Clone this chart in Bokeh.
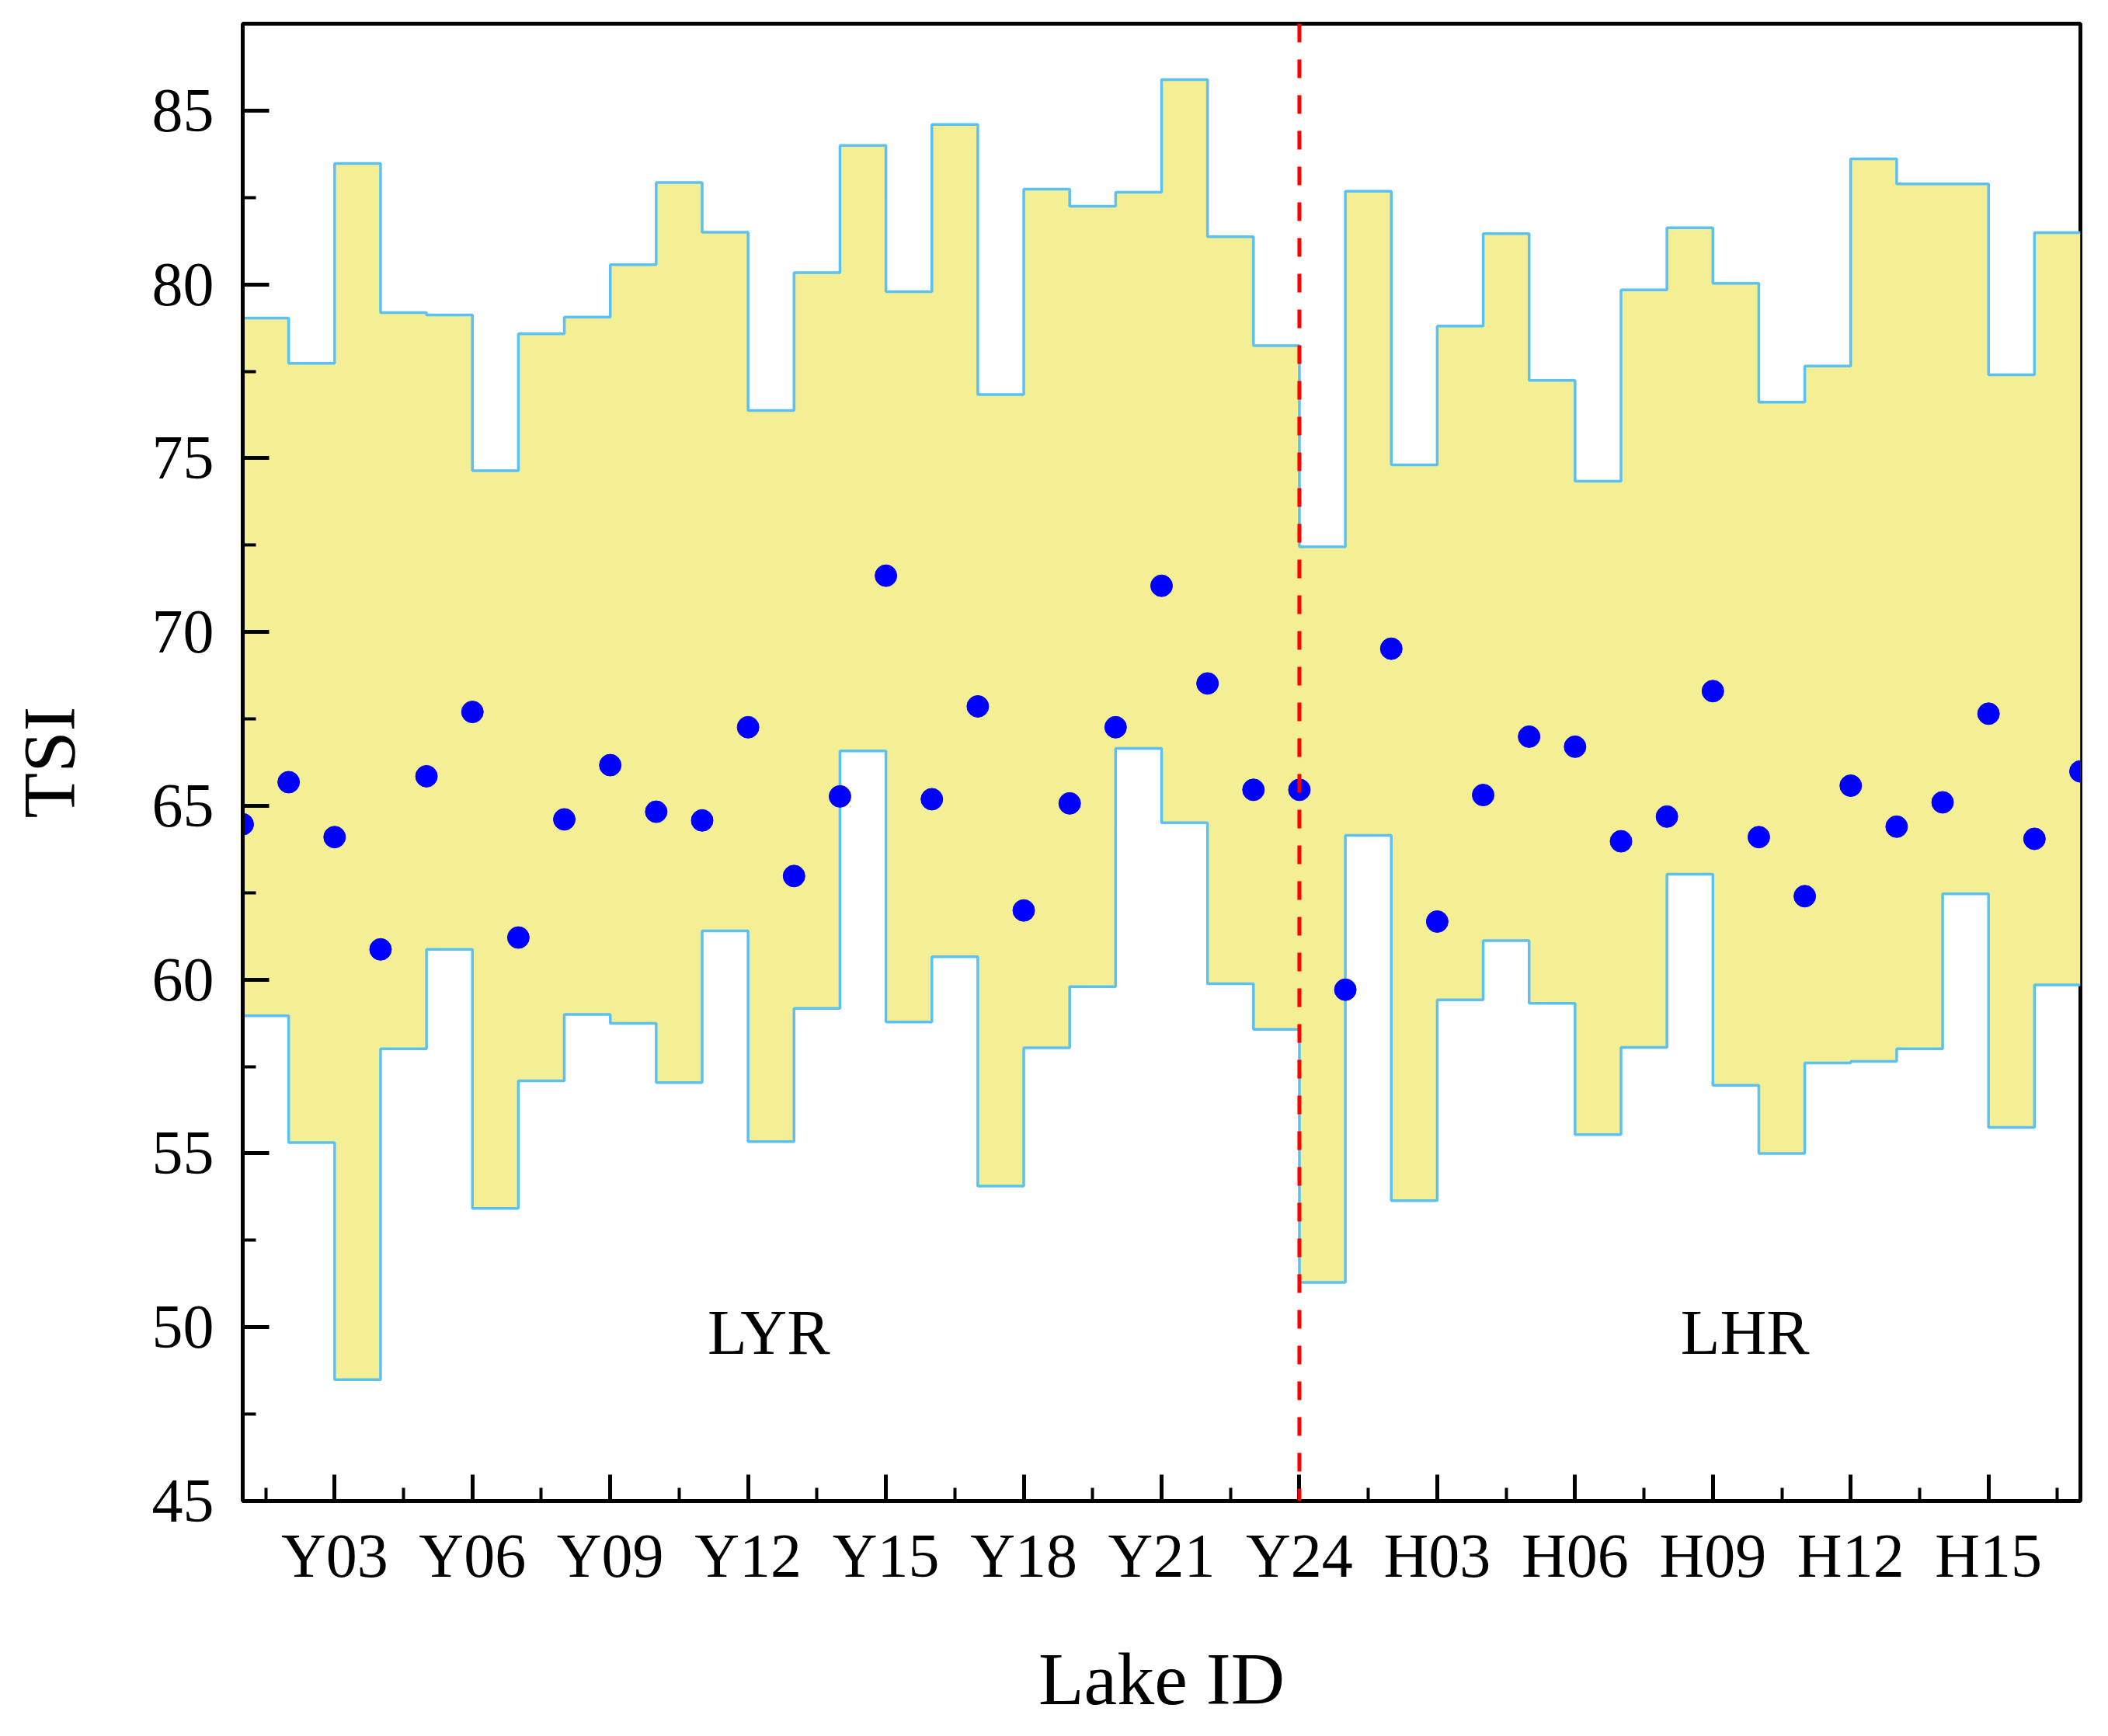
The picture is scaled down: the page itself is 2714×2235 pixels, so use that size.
from bokeh.plotting import figure
from bokeh.models import Range1d, FixedTicker, Span, Label
from bokeh.embed import file_html
from bokeh.resources import INLINE

lakes = ["Y01", "Y02", "Y03", "Y04", "Y05", "Y06", "Y07", "Y08", "Y09", "Y10",
         "Y11", "Y12", "Y13", "Y14", "Y15", "Y16", "Y17", "Y18", "Y19", "Y20",
         "Y21", "Y22", "Y23", "Y24",
         "H01", "H02", "H03", "H04", "H05", "H06", "H07", "H08", "H09", "H10",
         "H11", "H12", "H13", "H14", "H15", "H16", "H17"]

tsi_mean = [64.47, 65.68, 64.10, 60.87, 65.85, 67.70, 61.21, 64.61, 66.17, 64.83,
            64.58, 67.26, 62.98, 65.27, 71.62, 65.19, 67.86, 61.99, 65.07, 67.26,
            71.33, 68.52, 65.46, 65.46,
            59.71, 69.52, 61.67, 65.31, 66.99, 66.70, 63.98, 64.69, 68.30, 64.10,
            62.40, 65.58, 64.40, 65.10, 67.65, 64.05, 65.99]

tsi_upper = [80.87, 79.03, 77.73, 83.48, 79.19, 79.12, 74.64, 78.58, 79.06, 80.57,
             82.93, 81.50, 76.37, 80.34, 84.00, 79.79, 84.60, 76.83, 82.74, 82.25,
             82.65, 85.89, 81.37, 78.24,
             72.45, 82.68, 74.81, 78.80, 81.46, 77.24, 74.34, 79.84, 81.63, 80.03,
             76.61, 77.65, 83.61, 82.89, 82.89, 77.40, 81.49]

tsi_lower = [58.49, 58.96, 55.31, 48.49, 58.01, 60.87, 53.42, 57.09, 59.00, 58.74,
             57.04, 61.40, 55.34, 59.17, 66.58, 58.78, 60.66, 54.06, 58.04, 59.80,
             66.65, 64.51, 59.88, 58.57,
             51.29, 64.15, 53.64, 59.42, 61.12, 59.32, 55.54, 58.05, 63.03, 56.96,
             55.00, 57.60, 57.65, 58.01, 62.47, 55.75, 59.85]

group_names = ["LYR", "LHR"]
n_lyr = 24

pos = list(range(1, len(lakes) + 1))
edges = [0] + pos
up_step = [tsi_upper[0]] + tsi_upper
lo_step = [tsi_lower[0]] + tsi_lower

FONT = "Liberation Serif"

p = figure(width=2698, height=2219, output_backend="svg", toolbar_location=None,
           x_range=Range1d(1, 41), y_range=Range1d(45, 87.5),
           min_border_left=312, min_border_right=20, min_border_top=30,
           min_border_bottom=287, background_fill_color="white")

p.xgrid.visible = False
p.ygrid.visible = False
p.outline_line_color = "black"
p.outline_line_width = 5

# band
p.varea_step(x=edges, y1=lo_step, y2=up_step, step_mode="before",
             fill_color="#F4EE94", fill_alpha=1.0)
p.step(x=edges, y=up_step, mode="before", line_color="#5BC0F2", line_width=3.5)
p.step(x=edges, y=lo_step, mode="before", line_color="#5BC0F2", line_width=3.5)

# points
p.scatter(x=pos, y=tsi_mean, size=28, fill_color="#0000FF", line_color="#0000FF")

# separator
p.add_layout(Span(location=n_lyr, dimension="height", line_color="red",
                  line_dash="24 22", line_width=5))

p.add_layout(Label(x=12.45, y=49.85, text=group_names[0], text_align="center",
                   text_baseline="alphabetic", text_font=FONT,
                   text_font_size="83px", text_color="black"))
p.add_layout(Label(x=33.7, y=49.85, text=group_names[1], text_align="center",
                   text_baseline="alphabetic", text_font=FONT,
                   text_font_size="83px", text_color="black"))

# x axis
major_x = pos[2::3]
minor_x = [t - 1.5 for t in major_x] + [major_x[-1] + 1.5]
p.xaxis.ticker = FixedTicker(ticks=major_x, minor_ticks=minor_x)
p.xaxis.major_label_overrides = {t: lakes[t - 1] for t in major_x}

# y axis
major_y = [45, 50, 55, 60, 65, 70, 75, 80, 85]
minor_y = [v + 2.5 for v in major_y]
p.yaxis.ticker = FixedTicker(ticks=major_y, minor_ticks=minor_y)

for ax in (p.xaxis[0], p.yaxis[0]):
    ax.axis_line_width = 5
    ax.axis_line_color = "black"
    ax.major_tick_in = 34
    ax.major_tick_out = 0
    ax.minor_tick_in = 17
    ax.minor_tick_out = 0
    ax.major_tick_line_width = 5
    ax.minor_tick_line_width = 4
    ax.major_tick_line_color = "black"
    ax.minor_tick_line_color = "black"
    ax.major_label_text_font = FONT
    ax.major_label_text_font_size = "80px"
    ax.major_label_text_color = "black"
    ax.axis_label_text_font = FONT
    ax.axis_label_text_font_size = "96px"
    ax.axis_label_text_font_style = "normal"
    ax.axis_label_text_color = "black"

p.xaxis.axis_label = "Lake ID"
p.yaxis.axis_label = "TSI"
p.xaxis.major_label_standoff = 26
p.xaxis.axis_label_standoff = 58
p.yaxis.major_label_standoff = 37
p.yaxis.axis_label_standoff = 76

open("out.html", "w").write(file_html(p, INLINE))
